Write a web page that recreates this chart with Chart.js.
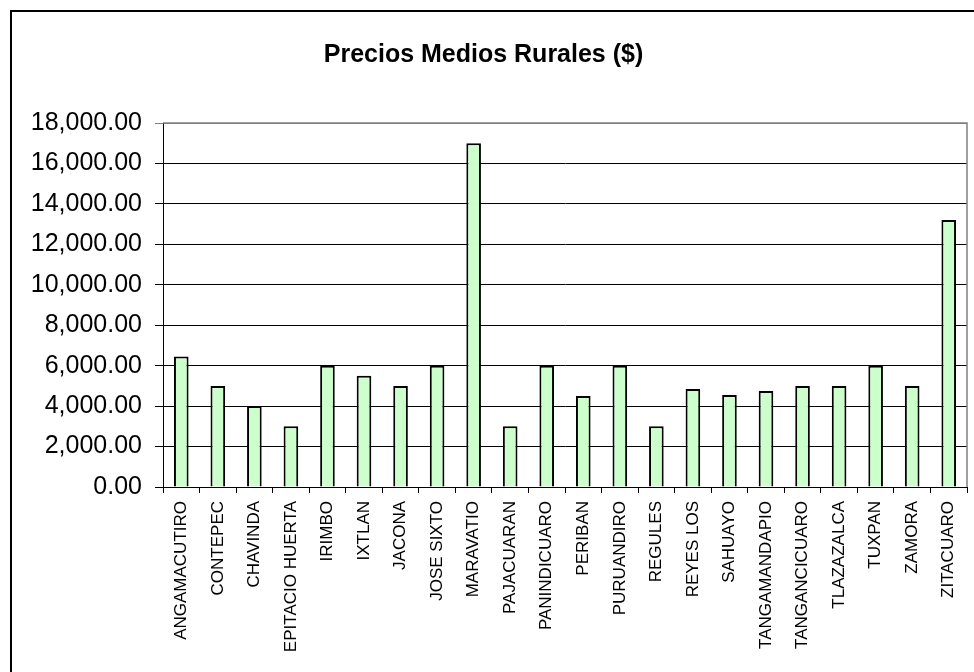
<!DOCTYPE html>
<html>
<head>
<meta charset="utf-8">
<script src="https://cdn.jsdelivr.net/npm/chart.js@4/dist/chart.umd.min.js"></script>
<style>
  html, body { margin: 0; padding: 0; background: #fff; overflow: hidden; }
  #frame {
    position: absolute; left: 10px; top: 10px;
    width: 1000px; height: 700px;
    border-left: 2px solid #000; border-top: 2px solid #000;
  }
  #chartCanvas { position: absolute; left: 0; top: 0; }
</style>
</head>
<body>
<div id="frame"></div>
<canvas id="chartCanvas" width="974" height="672"></canvas>
<script>
const municipios = [
  'ANGAMACUTIRO', 'CONTEPEC', 'CHAVINDA', 'EPITACIO HUERTA', 'IRIMBO', 'IXTLAN',
  'JACONA', 'JOSE SIXTO', 'MARAVATIO', 'PAJACUARAN', 'PANINDICUARO', 'PERIBAN',
  'PURUANDIRO', 'REGULES', 'REYES LOS', 'SAHUAYO', 'TANGAMANDAPIO', 'TANGANCICUARO',
  'TLAZAZALCA', 'TUXPAN', 'ZAMORA', 'ZITACUARO'
];
const precios = [
  6450, 5000, 4000, 3000, 6000, 5500,
  5000, 6000, 17000, 3000, 6000, 4500,
  6000, 3000, 4850, 4550, 4750, 5000,
  5000, 6000, 5000, 13200
];
const yTicksMax = 18000;
const yTicksStep = 2000;

// gray border on top and right of the plot area
const plotBorder = {
  id: 'plotBorder',
  beforeDatasetsDraw(chart) {
    const a = chart.chartArea;
    const ctx = chart.ctx;
    ctx.save();
    ctx.strokeStyle = '#808080';
    ctx.lineWidth = 1.5;
    ctx.beginPath();
    ctx.moveTo(a.left, a.top);
    ctx.lineTo(a.right, a.top);
    ctx.lineTo(a.right, a.bottom);
    ctx.stroke();
    ctx.restore();
  }
};

const ctx = document.getElementById('chartCanvas').getContext('2d');
new Chart(ctx, {
  type: 'bar',
  data: {
    labels: municipios,
    datasets: [{
      label: 'Precios Medios Rurales ($)',
      data: precios,
      backgroundColor: '#CCFFCC',
      borderColor: '#000000',
      borderWidth: 2,
      borderSkipped: 'bottom',
      categoryPercentage: 0.8,
      barPercentage: 0.5
    }]
  },
  options: {
    responsive: false,
    animation: false,
    layout: { padding: { left: 0, right: 7, top: 0, bottom: 0 } },
    plugins: {
      legend: { display: false },
      tooltip: { enabled: false },
      title: {
        display: true,
        text: 'Precios Medios Rurales ($)',
        color: '#000',
        font: { family: 'Arial, "Liberation Sans"', size: 25, weight: 'bold' },
        padding: { top: 40, bottom: 53 }
      }
    },
    scales: {
      x: {
        afterFit(scale) {
          scale.height = 185;
          // rotated labels would otherwise push the plot area inward
          scale.paddingLeft = 0;
          scale.paddingRight = 0;
        },
        grid: {
          offset: true,
          drawOnChartArea: false,
          color: '#000',
          tickLength: 6
        },
        border: { color: '#000', width: 1 },
        ticks: {
          autoSkip: false,
          minRotation: 90,
          maxRotation: 90,
          padding: 8,
          color: '#000',
          font: { family: 'Arial, "Liberation Sans"', size: 17 }
        }
      },
      y: {
        min: 0,
        max: yTicksMax,
        afterFit(scale) { scale.width = 163; },
        grid: {
          color: (c) => (c.tick && c.tick.value === yTicksMax ? '#808080' : '#000'),
          lineWidth: 1,
          tickLength: 8
        },
        border: { color: '#000', width: 1 },
        ticks: {
          stepSize: yTicksStep,
          padding: 13,
          color: '#000',
          font: { family: 'Arial, "Liberation Sans"', size: 25 },
          callback: (v) => Number(v).toLocaleString('en-US', { minimumFractionDigits: 2, maximumFractionDigits: 2 })
        }
      }
    }
  },
  plugins: [plotBorder]
});
</script>
</body>
</html>
